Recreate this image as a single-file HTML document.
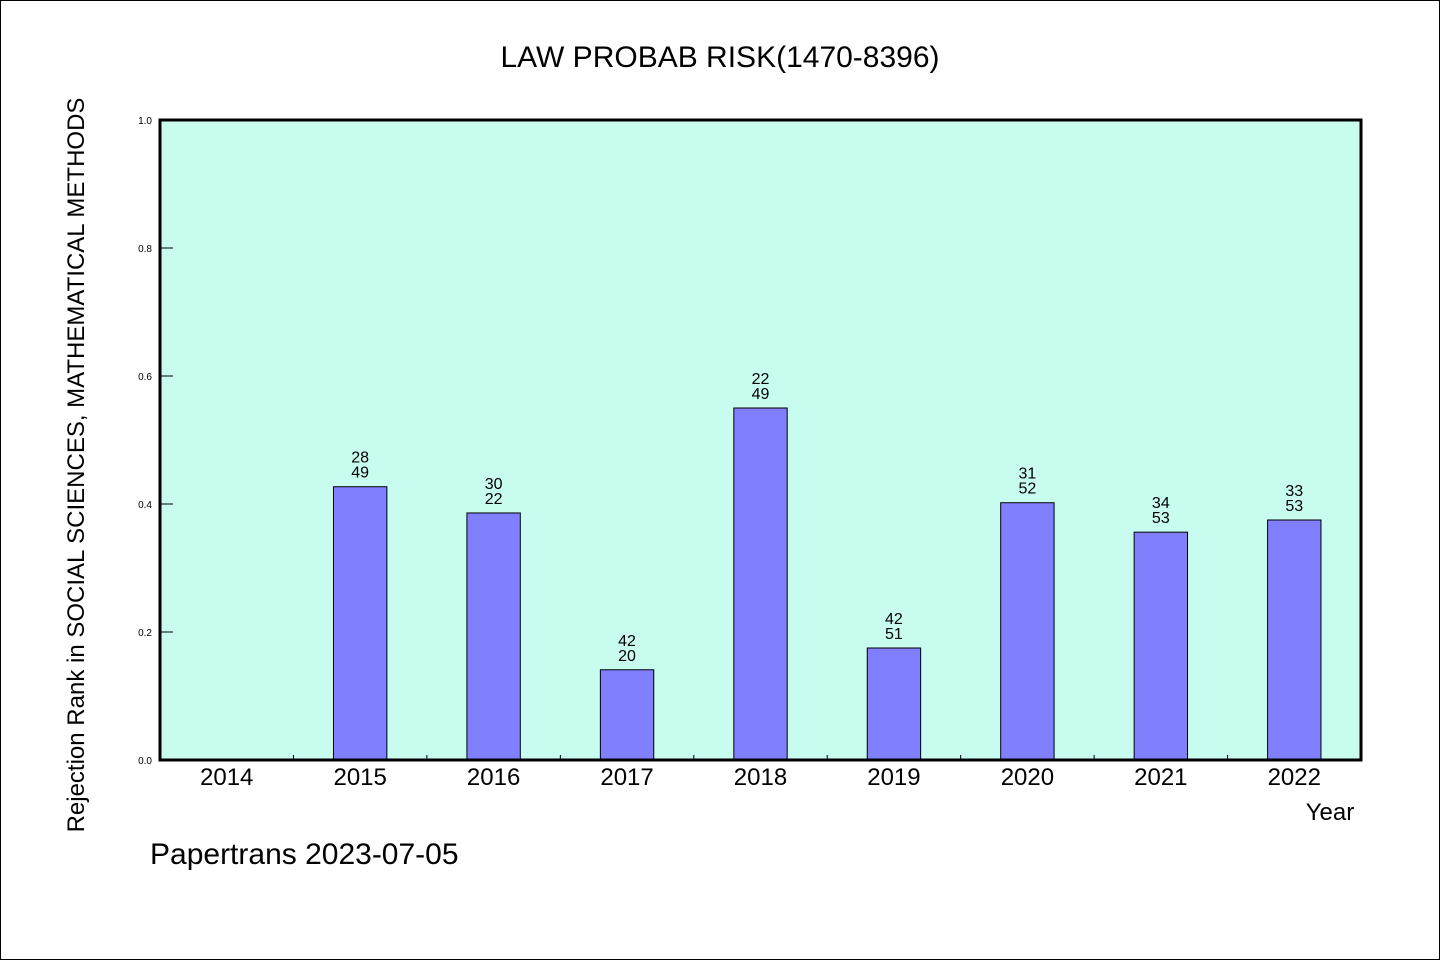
<!DOCTYPE html>
<html><head><meta charset="utf-8"><style>
html,body{margin:0;padding:0;background:#fff}
svg{display:block}
text{font-family:"WenQuanYi Zen Hei","Liberation Sans",sans-serif;fill:#000}
</style></head><body>
<svg id="chart" width="1440" height="960" xmlns="http://www.w3.org/2000/svg">
<rect x="0.5" y="0.5" width="1439" height="959" fill="#fff" stroke="#000"/>
<text x="720" y="67" font-size="30" text-anchor="middle">LAW PROBAB RISK(1470-8396)</text>
<rect x="160" y="120" width="1201" height="640" fill="#c8fcee"/>
<g id="bars"></g>
<g id="ticks"></g>
<rect x="160" y="120" width="1201" height="640" fill="none" stroke="#000" stroke-width="3"/>
<text x="1330" y="820" font-size="24" text-anchor="middle">Year</text>
<text transform="translate(84,465) rotate(-90)" font-size="24" text-anchor="middle">Rejection Rank in SOCIAL SCIENCES, MATHEMATICAL METHODS</text>
<text x="150" y="864" font-size="30">Papertrans 2023-07-05</text>
</svg>
<script>
const categories = ["2014","2015","2016","2017","2018","2019","2020","2021","2022"];
const values = [null,0.427,0.386,0.141,0.55,0.175,0.402,0.356,0.375];
const labelTop = ["","28","30","42","22","42","31","34","33"];
const labelBottom = ["","49","22","20","49","51","52","53","53"];
const yTicks = [0,0.2,0.4,0.6,0.8,1.0];
const yTickLabels = ["0.0","0.2","0.4","0.6","0.8","1.0"];

const NS="http://www.w3.org/2000/svg";
const X0=160,X1=1361,Y0=760,Y1=120;
const band=(X1-X0)/categories.length;
const xc=i=>X0+band*(i+0.5);
const y=v=>Y0-(v-0)/(1-0)*(Y0-Y1);
function mk(tag,attrs,parent){const e=document.createElementNS(NS,tag);for(const k in attrs)e.setAttribute(k,attrs[k]);parent.appendChild(e);return e;}
const bars=document.getElementById('bars'),ticks=document.getElementById('ticks');
const bw=band*0.4;
categories.forEach((c,i)=>{
  const v=values[i];
  if(v!==null&&v!==undefined){
    const r=mk('rect',{x:xc(i)-bw/2,y:y(v),width:bw,height:Y0-y(v),fill:'#8080ff',stroke:'#000','stroke-width':1},bars);
    
    
    const t1=mk('text',{x:xc(i),y:y(v)-24,'font-size':16,'text-anchor':'middle'},bars);
    t1.textContent=labelTop[i];
    
    
    const t2=mk('text',{x:xc(i),y:y(v)-9,'font-size':16,'text-anchor':'middle'},bars);
    t2.textContent=labelBottom[i];
    
    
  }
  const xl=mk('text',{x:xc(i),y:785,'font-size':24,'text-anchor':'middle'},ticks);
  xl.textContent=c;
  
  
  if(i>0){
    const tk=mk('line',{x1:X0+band*i,x2:X0+band*i,y1:Y0,y2:Y0-5,stroke:'#000','stroke-width':1},ticks);
    
    
  }
});
yTicks.forEach((v,i)=>{
  const tk=mk('line',{x1:X0,x2:X0+13,y1:y(v),y2:y(v),stroke:'#000','stroke-width':1},ticks);
  
  
  const tl=mk('text',{x:152,y:y(v)+4,'font-size':10,'text-anchor':'end'},ticks);
  tl.textContent=yTickLabels[i];
  
  
});
</script>
</body></html>
